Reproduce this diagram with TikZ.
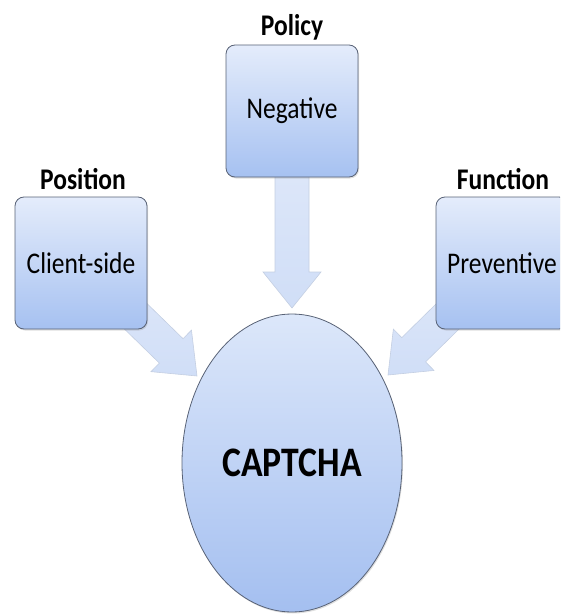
\documentclass[tikz,border=0pt]{standalone}
\usepackage{fontspec}
\setmainfont{Carlito}[FakeStretch=0.85]
\usetikzlibrary{shapes.geometric,calc,shadows}
\definecolor{boxtop}{RGB}{228,236,251}
\definecolor{boxbot}{RGB}{166,193,241}
\definecolor{elltop}{RGB}{220,231,250}
\definecolor{ellbot}{RGB}{164,191,240}
\definecolor{edge}{RGB}{88,98,118}
\definecolor{arrtop}{RGB}{226,234,250}
\definecolor{arrbot}{RGB}{208,222,247}
\definecolor{arredge}{RGB}{196,207,226}
\tikzset{
  catbox/.style={draw=edge, line width=0.8pt, rounded corners=9pt,
    top color=boxtop, bottom color=boxbot,
    minimum width=132pt, minimum height=132pt, inner sep=0pt,
    drop shadow={opacity=0.25, shadow xshift=1pt, shadow yshift=-1.5pt},
    font=\fontsize{30}{34}\selectfont},
  cattitle/.style={font=\fontsize{30}{34}\selectfont\bfseries, inner sep=0pt},
  core/.style={ellipse, draw=edge, line width=0.8pt,
    top color=elltop, bottom color=ellbot,
    minimum width=220pt, minimum height=298pt, inner sep=0pt,
    drop shadow={opacity=0.25, shadow xshift=1pt, shadow yshift=-1.5pt},
    font=\fontsize{42}{46}\selectfont\bfseries},
  blockarrow/.style={draw=arredge, line width=0.6pt, top color=arrtop, bottom color=arrbot,
    line join=miter}
}
\newcommand\blockarr[2]{%
  \path ($(#2)!36pt!(#1)$) coordinate (hb);
  \path[blockarrow]
    ($(#1)!17pt!90:(#2)$) -- ($(hb)!17pt!90:(#2)$) -- ($(hb)!29pt!90:(#2)$) --
    (#2) -- ($(hb)!29pt!-90:(#2)$) -- ($(hb)!17pt!-90:(#2)$) --
    ($(#1)!17pt!-90:(#2)$) -- cycle;
}
\begin{document}
\begin{tikzpicture}[x=1pt,y=-1pt]
\useasboundingbox (0,0) rectangle (560,615);
\clip (0,0) rectangle (560,615);
% anchor coordinates
\coordinate (negc) at (292,111);
\coordinate (clic) at (81,263);
\coordinate (func) at (502,263);
\coordinate (tipN) at (292,308);
\coordinate (tipC) at (197,376);
\coordinate (tipF) at (388,375);
% arrows (behind boxes)
\blockarr{negc}{tipN}
\blockarr{clic}{tipC}
\blockarr{func}{tipF}
% boxes
\node[catbox] (neg) at (negc) {Negative};
\node[catbox] (cli) at (clic) {Client-side};
\node[catbox] (fun) at (func) {Preventive};
% titles
\node[cattitle] (tpol) at (292,27) {Policy};
\node[cattitle] (tpos) at (83,179) {Position};
\node[cattitle] (tfun) at (503,179) {Function};
% core
\node[core] (cap) at (292,463) {CAPTCHA};
\end{tikzpicture}
\end{document}
